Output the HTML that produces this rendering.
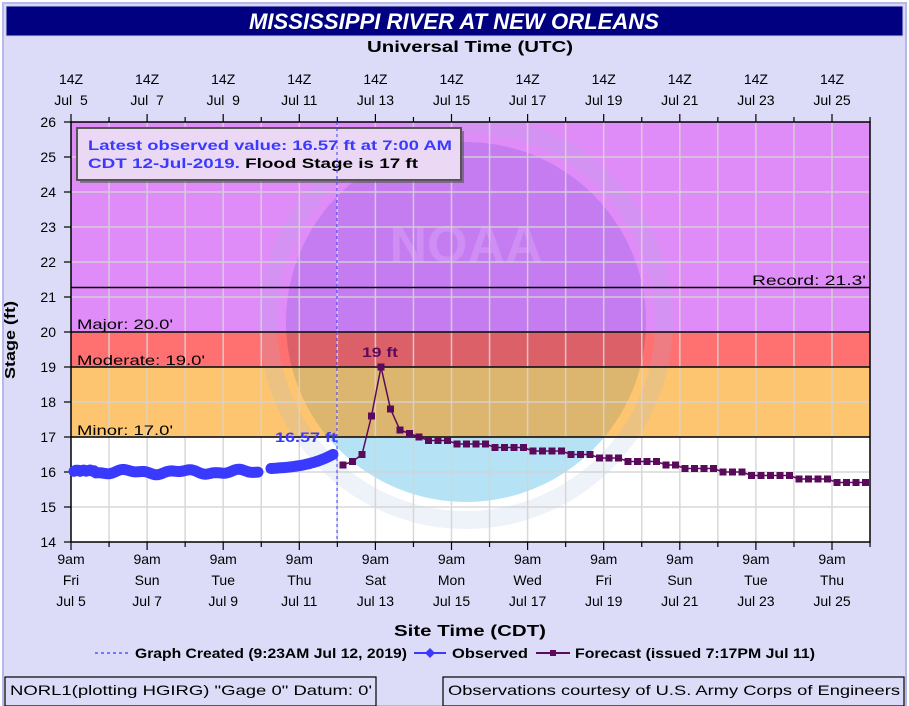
<!DOCTYPE html>
<html><head><meta charset="utf-8"><style>
html,body{margin:0;padding:0;background:#fff;}
svg{display:block;font-family:"Liberation Sans",sans-serif;}
</style></head><body>
<svg id="s" width="909" height="706" viewBox="0 0 909 706" xmlns="http://www.w3.org/2000/svg">
<defs>
<clipPath id="plot"><rect x="71" y="122" width="799" height="420"/></clipPath>
<clipPath id="disk"><circle cx="466" cy="322" r="180"/></clipPath>
</defs>
<rect x="0" y="0" width="909" height="706" fill="#fff"/>
<rect x="3" y="3" width="903" height="703" fill="#dcdcf8" stroke="#b8b8e8" stroke-width="2"/>
<rect x="6" y="6" width="897" height="30" fill="#000080" stroke="#c8c8f0" stroke-width="1"/>
<text x="454" y="29" text-anchor="middle" font-size="22" font-weight="bold" font-style="italic" fill="#fff" textLength="410" lengthAdjust="spacingAndGlyphs">MISSISSIPPI RIVER AT NEW ORLEANS</text>
<text x="470" y="52" text-anchor="middle" font-size="16" font-weight="bold" fill="#000" textLength="206" lengthAdjust="spacingAndGlyphs">Universal Time (UTC)</text>

<rect x="71" y="122" width="799" height="210" fill="#e08cf8"/>
<rect x="71" y="332" width="799" height="35" fill="#ff7070"/>
<rect x="71" y="367" width="799" height="70" fill="#fdc56f"/>
<rect x="71" y="437" width="799" height="105" fill="#fff"/>
<g clip-path="url(#plot)">
<circle cx="466" cy="322" r="198" fill="none" stroke="#a0b8e0" stroke-opacity="0.18" stroke-width="18"/>
<g clip-path="url(#disk)">
<rect x="280" y="122" width="380" height="210" fill="#c47cf0"/>
<rect x="280" y="332" width="380" height="35" fill="#dc6068"/>
<rect x="280" y="367" width="380" height="70" fill="#dcb66e"/>
<rect x="280" y="437" width="380" height="110" fill="#b5e3f5"/>
</g>
<text x="466" y="262" text-anchor="middle" font-size="52" font-weight="bold" fill="#d8a0f8" fill-opacity="0.5">NOAA</text>
</g>
<g id="grid" stroke="#d4d4d4" stroke-width="1.5" opacity="0.9"></g>
<g stroke="#000" stroke-width="1.5">
<line x1="71" y1="287.5" x2="870" y2="287.5"/>
<line x1="71" y1="332" x2="870" y2="332"/>
<line x1="71" y1="367" x2="870" y2="367"/>
<line x1="71" y1="437" x2="870" y2="437"/>
</g>
<g font-size="14" fill="#000">
<text x="752" y="285" textLength="114" lengthAdjust="spacingAndGlyphs">Record: 21.3'</text>
<text x="77" y="329" textLength="96" lengthAdjust="spacingAndGlyphs">Major: 20.0'</text>
<text x="77" y="365" textLength="128" lengthAdjust="spacingAndGlyphs">Moderate: 19.0'</text>
<text x="77" y="435" textLength="96" lengthAdjust="spacingAndGlyphs">Minor: 17.0'</text>
</g>
<rect x="71" y="122" width="799" height="420" fill="none" stroke="#000" stroke-width="1.5"/>
<g id="ticks" stroke="#000" stroke-width="1.2"></g>
<g id="labels" font-size="14" fill="#000" text-anchor="middle"></g>

<rect x="80" y="131" width="384" height="52" fill="#555" opacity="0.6"/>
<rect x="77" y="128" width="384" height="52" fill="#ead8f5" stroke="#555" stroke-width="2"/>
<text x="88" y="150" font-size="14" font-weight="bold" fill="#3a3aff" textLength="364" lengthAdjust="spacingAndGlyphs">Latest observed value: 16.57 ft at 7:00 AM</text>
<text x="88" y="168" font-size="14" font-weight="bold" textLength="330" lengthAdjust="spacingAndGlyphs"><tspan fill="#3a3aff">CDT 12-Jul-2019. </tspan><tspan fill="#000">Flood Stage is 17 ft</tspan></text>

<line x1="337" y1="122" x2="337" y2="542" stroke="#3a3aff" stroke-width="1" stroke-dasharray="3,3"/>
<g id="obs"></g>
<g id="fc"></g>
<text x="275" y="442" font-size="14" font-weight="bold" fill="#3a3aff" textLength="62" lengthAdjust="spacingAndGlyphs">16.57 ft</text>
<text x="362" y="357" font-size="14" font-weight="bold" fill="#5a0a5a" textLength="36" lengthAdjust="spacingAndGlyphs">19 ft</text>

<text x="15" y="340" transform="rotate(-90 15 340)" text-anchor="middle" font-size="15" font-weight="bold" textLength="78" lengthAdjust="spacingAndGlyphs">Stage (ft)</text>
<text x="470" y="636" text-anchor="middle" font-size="16" font-weight="bold" textLength="152" lengthAdjust="spacingAndGlyphs">Site Time (CDT)</text>

<line x1="95" y1="653" x2="128" y2="653" stroke="#3a3aff" stroke-width="1.2" stroke-dasharray="3,3"/>
<text x="135" y="658" font-size="14" font-weight="bold" textLength="272" lengthAdjust="spacingAndGlyphs">Graph Created (9:23AM Jul 12, 2019)</text>
<line x1="414" y1="653" x2="446" y2="653" stroke="#3a3aff" stroke-width="2"/>
<path d="M430 648 L435 653 L430 658 L425 653Z" fill="#3a3aff"/>
<text x="452" y="658" font-size="14" font-weight="bold" textLength="76" lengthAdjust="spacingAndGlyphs">Observed</text>
<line x1="536" y1="653" x2="570" y2="653" stroke="#5a0a5a" stroke-width="2"/>
<rect x="550" y="650" width="6" height="6" fill="#5a0a5a"/>
<text x="575" y="658" font-size="14" font-weight="bold" textLength="240" lengthAdjust="spacingAndGlyphs">Forecast (issued 7:17PM Jul 11)</text>

<rect x="5" y="677" width="371" height="29" fill="#dcdcf8" stroke="#000" stroke-width="1.2"/>
<text x="10" y="695" font-size="14" textLength="362" lengthAdjust="spacingAndGlyphs">NORL1(plotting HGIRG) "Gage 0" Datum: 0'</text>
<rect x="443" y="677" width="461" height="29" fill="#dcdcf8" stroke="#000" stroke-width="1.2"/>
<text x="448" y="695" font-size="14" textLength="452" lengthAdjust="spacingAndGlyphs">Observations courtesy of U.S. Army Corps of Engineers</text>
</svg>
<script>
var NS="http://www.w3.org/2000/svg";
function el(p,t,a,txt){var e=document.createElementNS(NS,t);for(var k in a)e.setAttribute(k,a[k]);if(txt!=null)e.textContent=txt;document.getElementById(p).appendChild(e);return e;}
var x0=71,d=38.05;function Y(v){return 542-(v-14)*35;}
for(var i=1;i<21;i++){var x=x0+i*d;el("grid","line",{x1:x,y1:122,x2:x,y2:542});}
for(var v=15;v<26;v++){el("grid","line",{x1:71,y1:Y(v),x2:870,y2:Y(v)});}
for(var i=0;i<=21;i++){var x=x0+i*d,L=(i%2==0)?8:5;
el("ticks","line",{x1:x,y1:122,x2:x,y2:122-L});el("ticks","line",{x1:x,y1:542,x2:x,y2:542+L});}
for(var v=14;v<=26;v++){el("ticks","line",{x1:64,y1:Y(v),x2:71,y2:Y(v)});
el("labels","text",{x:56,y:Y(v)+5,"text-anchor":"end"},v);}
var days=["Fri","Sun","Tue","Thu","Sat","Mon","Wed","Fri","Sun","Tue","Thu"];
for(var i=0;i<11;i++){var x=x0+i*2*d,dt=5+2*i,ds="Jul "+(dt<10?"\u00a0"+dt:dt);
el("labels","text",{x:x,y:84},"14Z");el("labels","text",{x:x,y:105},ds);
el("labels","text",{x:x,y:564},"9am");el("labels","text",{x:x,y:585},days[i]);el("labels","text",{x:x,y:606},"Jul "+dt);}
var pts=[];
for(var x=74;x<=258;x+=2){var v=16.0+0.05*Math.sin(x/9)+0.03*Math.sin(x/3.7);if(x<95)v=16.04+0.02*Math.sin(x);pts.push([x,v]);}
var seg2=[];for(var x=271;x<=334;x+=2){var t=(x-271)/63;seg2.push([x,16.1+0.12*t+0.3*Math.pow(t,3)]);}
function pl(a){return a.map(function(p){return p[0].toFixed(1)+","+Y(p[1]).toFixed(1)}).join(" ");}
el("obs","polyline",{points:pl(pts),fill:"none",stroke:"#3a3aff","stroke-width":11,"stroke-linejoin":"round","stroke-linecap":"round"});
el("obs","polyline",{points:pl(seg2),fill:"none",stroke:"#3a3aff","stroke-width":11,"stroke-linejoin":"round","stroke-linecap":"round"});
var early=[16.2,16.3,16.5,17.6,19.0,17.8,17.2,17.1,17.0,16.9];
function fv(x){var tb=[[450,16.9],[492,16.8],[527,16.7],[562,16.6],[590,16.5],[620,16.4],[658,16.3],[678,16.2],[716,16.1],[746,16.0],[792,15.9],[836,15.8],[999,15.7]];for(var i=0;i<tb.length;i++)if(x<=tb[i][0])return tb[i][1];}
var fp=[];for(var k=0;;k++){var x=343+k*9.5;if(x>870)break;fp.push([x,k<early.length?early[k]:fv(x)]);}
el("fc","polyline",{points:pl(fp),fill:"none",stroke:"#5a0a5a","stroke-width":1.5});
fp.forEach(function(p){el("fc","rect",{x:p[0]-3.5,y:Y(p[1])-3.5,width:7,height:7,fill:"#5a0a5a"});});
</script>
</body></html>
